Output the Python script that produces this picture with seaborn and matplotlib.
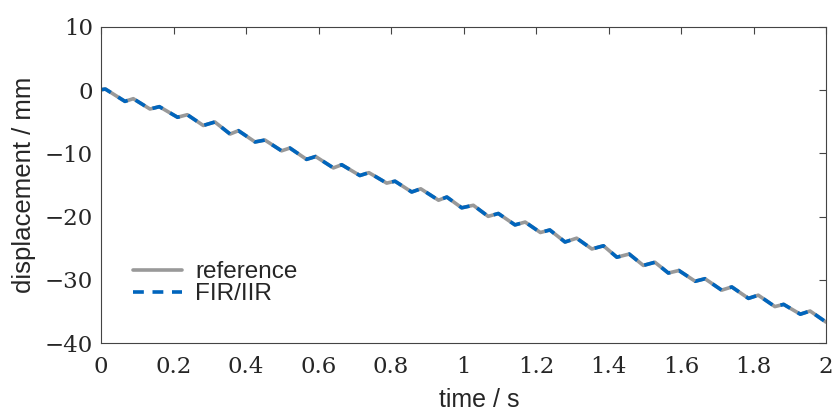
import numpy as np
import pandas as pd
import matplotlib
matplotlib.use('Agg')
import matplotlib.pyplot as plt
import seaborn as sns
from matplotlib.ticker import FormatStrFormatter

# values (local extrema of the wavy descent)
time_s = [0.000, 0.012, 0.066, 0.089, 0.135, 0.161, 0.211, 0.238, 0.282, 0.314,
          0.356, 0.379, 0.425, 0.452, 0.498, 0.521, 0.567, 0.592, 0.641, 0.664,
          0.714, 0.739, 0.788, 0.811, 0.857, 0.882, 0.931, 0.954, 0.995, 1.027,
          1.068, 1.096, 1.142, 1.170, 1.212, 1.238, 1.280, 1.312, 1.354, 1.386,
          1.423, 1.457, 1.496, 1.528, 1.565, 1.594, 1.639, 1.666, 1.712, 1.740,
          1.786, 1.813, 1.859, 1.883, 1.929, 1.956, 2.000]
displacement_mm = [0.05, 0.15, -1.79, -1.37, -3.00, -2.63, -4.30, -3.90, -5.60, -5.05,
                   -6.95, -6.42, -8.20, -7.90, -9.60, -9.16, -10.95, -10.50, -12.30, -11.80,
                   -13.50, -13.05, -14.70, -14.40, -16.10, -15.60, -17.40, -16.90, -18.60, -18.20,
                   -19.95, -19.50, -21.30, -20.85, -22.50, -22.10, -24.00, -23.40, -25.10, -24.60,
                   -26.40, -25.90, -27.70, -27.20, -28.90, -28.50, -30.20, -29.80, -31.60, -31.10,
                   -32.90, -32.40, -34.20, -33.85, -35.40, -34.90, -36.65]
# filter output lies on top of the reference
fir_iir_mm = list(displacement_mm)

x_ticks = [0, 0.2, 0.4, 0.6, 0.8, 1.0, 1.2, 1.4, 1.6, 1.8, 2.0]
y_ticks = [-40, -30, -20, -10, 0, 10]

df = pd.DataFrame({'t': time_s, 'ref': displacement_mm, 'filt': fir_iir_mm})

sns.set_style('white')
plt.rcParams['font.family'] = ['Liberation Sans', 'DejaVu Sans']

fig = plt.figure(figsize=(8.37, 4.12), dpi=100)
ax = fig.add_axes([0.1207, 0.1667, 0.8662, 0.7685])

dash = [3.0, 2.4]
sns.lineplot(data=df, x='t', y='ref', ax=ax, color='#999999', lw=2.6,
             label='reference', estimator=None, sort=False)
sns.lineplot(data=df, x='t', y='filt', ax=ax, color='#0065BD', lw=2.6,
             label='FIR/IIR', estimator=None, sort=False)
ax.lines[1].set_dashes(dash)

ax.set_xlim(0, 2)
ax.set_ylim(-40, 10)
ax.set_xticks(x_ticks)
ax.set_yticks(y_ticks)
ax.xaxis.set_major_formatter(FormatStrFormatter('%g'))

for lab in ax.get_xticklabels() + ax.get_yticklabels():
    lab.set_family('DejaVu Serif')
    lab.set_fontsize(16.5)

ax.tick_params(direction='in', length=5, width=0.8, color='#444444',
               top=True, right=True, pad=6)
ax.tick_params(axis='x', pad=9)
for s in ax.spines.values():
    s.set_color('#444444')
    s.set_linewidth(0.8)

ax.set_xlabel('time / s', fontsize=18)
ax.xaxis.set_label_coords(0.521, -0.14)
ax.set_ylabel('displacement / mm', fontsize=18.5, labelpad=6)

leg = ax.legend(loc='lower left', bbox_to_anchor=(0.031, 0.09), frameon=False,
                fontsize=17.5, handlelength=2.0, labelspacing=0.0,
                handletextpad=0.55, borderaxespad=0)
leg.get_lines()[1].set_dashes(dash)

fig.savefig('out.png', dpi=100)
